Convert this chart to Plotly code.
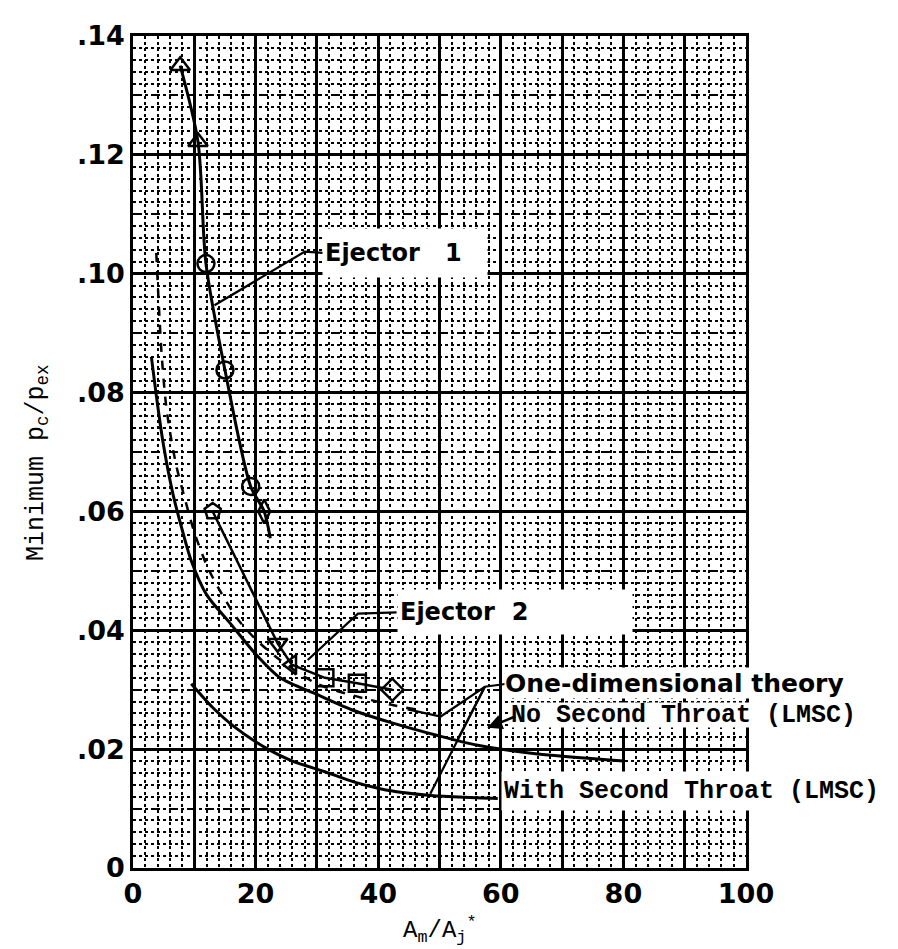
import plotly.graph_objects as go

# ---------------- data ----------------
# Ejector 1 test points and faired curve
ej1_x = [7.7, 10.6, 11.9, 15.0, 19.2, 21.4]
ej1_y = [0.1350, 0.1222, 0.1017, 0.0838, 0.0642, 0.0600]
ej1_curve_x = [7.7, 10.6, 11.9, 15.0, 19.2, 21.4, 22.4]
ej1_curve_y = [0.1350, 0.1222, 0.1017, 0.0838, 0.0642, 0.0600, 0.0555]

# Ejector 2 test points (connected)
ej2_x = [13.0, 23.6, 25.9, 31.3, 36.6, 42.3]
ej2_y = [0.0600, 0.0378, 0.0342, 0.0320, 0.0311, 0.0300]

# One-dimensional theory (dashed)
theory_x = [3.8, 4.2, 4.7, 5.5, 7.0, 8.5, 10.0, 12.0, 14.0, 17.0, 20.0, 24.0, 30.0, 36.0, 42.0, 46.0]
theory_y = [0.1035, 0.0950, 0.0860, 0.0770, 0.0680, 0.0620, 0.0565, 0.0510, 0.0470, 0.0420,
            0.0385, 0.0350, 0.0310, 0.0290, 0.0275, 0.0267]

# No Second Throat (LMSC)
nst_x = [3.0, 4.0, 5.0, 6.5, 8.0, 9.5, 12.0, 16.0, 20.0, 24.0, 30.0, 36.0, 42.0, 50.0, 56.0, 65.0, 80.0]
nst_y = [0.0860, 0.0780, 0.0710, 0.0630, 0.0570, 0.0517, 0.0460, 0.0410, 0.0360, 0.0320,
         0.0292, 0.0265, 0.0245, 0.0222, 0.0207, 0.0193, 0.0180]

# With Second Throat (LMSC)
wst_x = [9.5, 13.0, 16.6, 22.0, 26.0, 31.3, 36.0, 40.5, 44.0, 48.6, 54.0, 59.5]
wst_y = [0.0310, 0.0270, 0.0237, 0.0200, 0.0180, 0.0162, 0.0145, 0.0133, 0.0127, 0.0122, 0.0119, 0.0117]

# leader lines
lead_ej1_x = [13.3, 28.0, 31.0]
lead_ej1_y = [0.0947, 0.1037, 0.1035]
lead_ej2_x = [28.5, 36.7, 43.0]
lead_ej2_y = [0.0350, 0.0428, 0.0430]
lead_th_x = [44.8, 50.2, 57.4, 61.0]
lead_th_y = [0.0267, 0.0255, 0.0305, 0.0310]
lead_wst_x = [48.5, 57.4]
lead_wst_y = [0.0125, 0.0305]
lead_nst_x = [53.0, 57.4]
lead_nst_y = [0.0217, 0.0305]
arrow_nst_head = [57.8, 0.0236]
arrow_nst_tail = [62.6, 0.0256]

x_ticks = [0, 20, 40, 60, 80, 100]
x_ticktext = ["0", "20", "40", "60", "80", "100"]
x_mid = [10, 30, 50, 70, 90]
y_ticks = [0, 0.02, 0.04, 0.06, 0.08, 0.10, 0.12, 0.14]
y_ticktext = ["0", ".02", ".04", ".06", ".08", ".10", ".12", ".14"]
y_mid = [0.01, 0.03, 0.05, 0.07, 0.09, 0.11, 0.13]

# ---------------- styles ----------------
ej1_symbols = ["triangle-up-open", "triangle-up-open", "circle-open", "circle-open-dot",
               "circle-open", "diamond-tall-open"]
ej2_symbols = ["pentagon-open", "triangle-down-open", "triangle-left-open", "square-open",
               "square-open", "diamond-open"]

BLK = "black"
fig = go.Figure()

def line(x, y, width=3, dash="solid", shape="spline"):
    fig.add_trace(go.Scatter(x=x, y=y, mode="lines", hoverinfo="skip", showlegend=False,
                             line=dict(color=BLK, width=width, dash=dash, shape=shape,
                                       smoothing=0.8)))

line(theory_x, theory_y, 2.5, "dash")
line(nst_x, nst_y, 3)
line(wst_x, wst_y, 3)
line(ej1_curve_x, ej1_curve_y, 3)
line(ej2_x, ej2_y, 2.5, shape="linear")
for lx, ly in [(lead_ej1_x, lead_ej1_y), (lead_ej2_x, lead_ej2_y), (lead_th_x, lead_th_y),
               (lead_wst_x, lead_wst_y), (lead_nst_x, lead_nst_y)]:
    line(lx, ly, 2.2, shape="linear")

fig.add_trace(go.Scatter(x=ej1_x, y=ej1_y, mode="markers", showlegend=False,
                         marker=dict(symbol=ej1_symbols, size=17, color=BLK,
                                     line=dict(width=2.5, color=BLK))))
fig.add_trace(go.Scatter(x=ej2_x, y=ej2_y, mode="markers", showlegend=False,
                         marker=dict(symbol=ej2_symbols, size=17, color=BLK,
                                     line=dict(width=2.5, color=BLK))))
# helper trace so the overlay axes (10-unit and .01 grid lines) exist
fig.add_trace(go.Scatter(x=[None], y=[None], xaxis="x2", yaxis="y2", showlegend=False,
                         hoverinfo="skip"))

SANS = dict(family="DejaVu Sans, Verdana, sans-serif", size=24, color=BLK, weight="bold")
SANS_L = dict(family="DejaVu Sans, Verdana, sans-serif", size=25, color=BLK, weight="bold")
MONO = dict(family="Liberation Mono, Courier New, monospace", size=25, color=BLK, weight="bold")

ann = []
def label(x, y, text, font, width=None, height=None, pad=2):
    d = dict(x=x, y=y, xref="x", yref="y", text=text, showarrow=False, xanchor="left",
             yanchor="middle", font=font, bgcolor="white", align="left", borderpad=pad)
    if width:
        d["width"] = width
    if height:
        d["height"] = height
    ann.append(d)

nb = "\u00a0"
label(30.8, 0.1035, "Ejector" + nb * 3 + "1", SANS, 160, 44)
label(43.0, 0.0430, "Ejector" + nb * 2 + "2", SANS, 230, 40)
label(60.0, 0.0130, "With" + nb + "Second" + nb + "Throat" + nb + "(LMSC)", MONO, 400, 34)
label(60.5, 0.0312, "One-dimensional" + nb + "theory", SANS_L, None, 30, 0)
label(61.5, 0.0257, "No" + nb + "Second" + nb + "Throat" + nb + "(LMSC)", MONO, 370, 24, 0)

ann.append(dict(x=arrow_nst_head[0], y=arrow_nst_head[1], ax=arrow_nst_tail[0],
                ay=arrow_nst_tail[1], xref="x", yref="y", axref="x", ayref="y",
                text="", showarrow=True, arrowhead=2, arrowsize=1.2, arrowwidth=2.5,
                arrowcolor=BLK))
ann.append(dict(x=-0.155, y=0.488, xref="paper", yref="paper", showarrow=False,
                text="Minimum p<sub>c</sub>/p<sub>ex</sub>", textangle=-90,
                font=dict(family="Liberation Mono, Courier New, monospace", size=25, color=BLK),
                xanchor="center", yanchor="middle"))
ann.append(dict(x=0.5, y=-0.075, xref="paper", yref="paper", showarrow=False,
                text="A<sub>m</sub>/A<sub>j</sub><sup>*</sup>",
                font=dict(family="Liberation Mono, Courier New, monospace", size=24, color=BLK),
                xanchor="center", yanchor="middle"))

x_minor = [v for v in range(0, 101, 2) if v % 10 != 0]
y_minor = [round(i * 0.002, 4) for i in range(0, 71) if i % 5 != 0]

TICKFONT = dict(family="DejaVu Sans, Verdana, sans-serif", size=27, color=BLK, weight="bold")

fig.update_layout(
    width=898, height=949,
    margin=dict(l=125, r=160, t=20, b=89),
    paper_bgcolor="white", plot_bgcolor="white",
    showlegend=False,
    annotations=ann,
    xaxis=dict(range=[0, 100], tickmode="array", tickvals=x_ticks, ticktext=x_ticktext,
               showgrid=True, gridcolor=BLK, gridwidth=2.5, zeroline=False,
               showline=True, linecolor=BLK, linewidth=2.5, mirror=True, ticks="",
               tickfont=TICKFONT,
               minor=dict(tickvals=x_minor, showgrid=True, gridcolor=BLK, gridwidth=1.6,
                          griddash="dot", ticks="")),
    xaxis2=dict(range=[0, 100], overlaying="x", side="bottom", tickmode="array",
                tickvals=x_mid, showticklabels=False, showgrid=True, gridcolor=BLK,
                gridwidth=2.5, zeroline=False, showline=False, ticks=""),
    yaxis=dict(range=[0, 0.14], tickmode="array", tickvals=y_ticks, ticktext=y_ticktext,
               showgrid=True, gridcolor=BLK, gridwidth=2.5, zeroline=False,
               showline=True, linecolor=BLK, linewidth=2.5, mirror=True, ticks="",
               tickfont=TICKFONT,
               minor=dict(tickvals=y_minor, showgrid=True, gridcolor=BLK, gridwidth=1.6,
                          griddash="dot", ticks="")),
    yaxis2=dict(range=[0, 0.14], overlaying="y", side="left", tickmode="array",
                tickvals=y_mid, showticklabels=False, showgrid=True, gridcolor=BLK,
                gridwidth=2, griddash="dashdot", zeroline=False, showline=False, ticks=""),
)

fig.write_html("out.html")
